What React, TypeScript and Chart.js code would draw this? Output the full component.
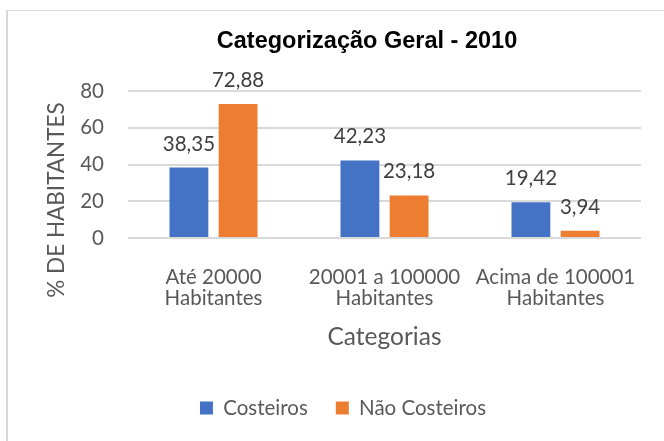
import React, { useEffect, useRef } from 'react';
import { Chart, registerables } from 'chart.js';

Chart.register(...registerables);

const categories: string[][] = [
  ['Até 20000', 'Habitantes'],
  ['20001 a 100000', 'Habitantes'],
  ['Acima de 100001', 'Habitantes'],
];
const seriesNames = ['Costeiros', 'Não Costeiros'];
const costeiros = [38.35, 42.23, 19.42];
const naoCosteiros = [72.88, 23.18, 3.94];
const yMin = 0;
const yMax = 80;
const yStep = 20;
const chartTitle = 'Categorização Geral - 2010';
const yTitle = '% DE HABITANTES';
const xTitle = 'Categorias';

const FONT = 'Lato';
const AXIS_COLOR = '#595959';
const LABEL_COLOR = '#404040';

const fmt = (v: number) => v.toFixed(2).replace('.', ',');

const decor = {
  id: 'decor',
  beforeDraw(chart: any) {
    const { ctx, width, height } = chart;
    ctx.save();
    ctx.fillStyle = '#ffffff';
    ctx.fillRect(0, 0, width, height);
    ctx.strokeStyle = '#d9d9d9';
    ctx.lineWidth = 2;
    ctx.beginPath();
    ctx.moveTo(7, 10);
    ctx.lineTo(7, height);
    ctx.stroke();
    ctx.lineWidth = 1;
    ctx.beginPath();
    ctx.moveTo(6, 10.5);
    ctx.lineTo(width, 10.5);
    ctx.stroke();
    ctx.restore();
  },
  afterDraw(chart: any) {
    const { ctx } = chart;
    ctx.save();
    // title
    ctx.fillStyle = '#000000';
    ctx.font = 'bold 23.5px "Liberation Sans", Arial, sans-serif';
    ctx.textAlign = 'center';
    ctx.textBaseline = 'alphabetic';
    ctx.fillText(chartTitle, 367, 47.5);
    // y axis title
    ctx.save();
    ctx.translate(57, 200);
    ctx.rotate(-Math.PI / 2);
    ctx.fillStyle = AXIS_COLOR;
    ctx.font = `22.5px ${FONT}`;
    ctx.textAlign = 'center';
    ctx.textBaseline = 'middle';
    ctx.fillText(yTitle, 0, 0);
    ctx.restore();
    // data labels
    ctx.fillStyle = LABEL_COLOR;
    ctx.font = `20.5px ${FONT}`;
    ctx.textAlign = 'center';
    ctx.textBaseline = 'alphabetic';
    chart.data.datasets.forEach((ds: any, di: number) => {
      const meta = chart.getDatasetMeta(di);
      meta.data.forEach((el: any, i: number) => {
        ctx.fillText(fmt(ds.data[i]), el.x, el.y - 17);
      });
    });
    ctx.restore();
  },
};

export default function App() {
  const ref = useRef<HTMLCanvasElement>(null);
  useEffect(() => {
    if (!ref.current) return;
    const chart = new Chart(ref.current, {
      type: 'bar',
      data: {
        labels: categories,
        datasets: [
          {
            label: seriesNames[0],
            data: costeiros,
            backgroundColor: '#4472C4',
            categoryPercentage: 0.575,
            barPercentage: 0.79,
          },
          {
            label: seriesNames[1],
            data: naoCosteiros,
            backgroundColor: '#ED7D31',
            categoryPercentage: 0.575,
            barPercentage: 0.79,
          },
        ],
      },
      options: {
        responsive: false,
        animation: false,
        devicePixelRatio: 1,
        layout: { padding: { left: 45, right: 23, top: 91, bottom: 12.75 } },
        plugins: {
          title: { display: false },
          tooltip: { enabled: false },
          legend: {
            position: 'bottom',
            labels: {
              boxWidth: 13,
              boxHeight: 13,
              padding: 28,
              color: AXIS_COLOR,
              font: { family: FONT, size: 20.5 },
            },
          },
        },
        scales: {
          x: {
            grid: { display: false },
            border: { display: false },
            ticks: {
              color: AXIS_COLOR,
              font: { family: FONT, size: 20.5, lineHeight: 21 / 20.5 },
              padding: 21,
              maxRotation: 0,
              autoSkip: false,
            },
            title: {
              display: true,
              text: xTitle,
              color: AXIS_COLOR,
              font: { family: FONT, size: 24.5, lineHeight: 1.2 },
              padding: { top: 0, bottom: 18 },
            },
            afterFit(scale: any) {
              scale.height = 131.75;
            },
          },
          y: {
            min: yMin,
            max: yMax,
            grid: { color: '#d9d9d9', lineWidth: 2, drawTicks: false },
            border: { display: false },
            ticks: {
              stepSize: yStep,
              color: AXIS_COLOR,
              font: { family: FONT, size: 20.5 },
              padding: 24,
            },
            afterFit(scale: any) {
              scale.width = 83;
            },
          },
        },
      },
      plugins: [decor],
    } as any);
    return () => chart.destroy();
  }, []);
  return (
    <canvas
      ref={ref}
      width={664}
      height={441}
      style={{ position: 'fixed', left: 0, top: 0, width: 664, height: 441 }}
    />
  );
}
